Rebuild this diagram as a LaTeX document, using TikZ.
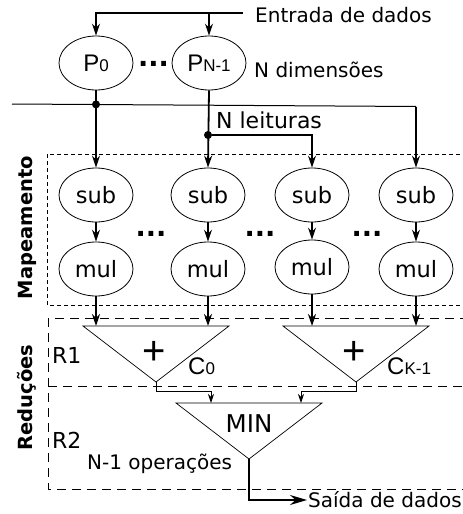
\documentclass[tikz,border=0pt]{standalone}
\usepackage{fontspec}
\setmainfont{DejaVu Sans}
\newfontfamily\arialfont{Liberation Sans}
\usetikzlibrary{shapes.geometric,arrows.meta}

\newcommand{\fs}[1]{\fontsize{#1}{#1}\selectfont}
\newcommand{\idx}[2]{{\arialfont\fs{24}#1\fs{17}#2}}

\tikzset{
  op/.style={ellipse,draw,line width=0.8pt,minimum width=74pt,minimum height=54pt,
             inner sep=0pt,font=\fs{22.5}},
  flow/.style={line width=1.8pt,-{Stealth[length=12pt,width=8pt]}},
  bus/.style={line width=1pt},
  branch/.style={line width=1.4pt,-{Stealth[length=12pt,width=8pt]}},
  merge/.style={line width=0.9pt,-{Stealth[length=9pt,width=6pt]}},
  outflow/.style={line width=1.4pt,-{Stealth[length=17pt,width=10pt]}},
  tap/.style={circle,fill,inner sep=0pt,minimum size=8pt},
  adder/.style={line width=0.7pt},
  lbl/.style={inner sep=0pt,font=\fs{20}},
  dots/.style={inner sep=0pt,font=\bfseries\fs{27}},
  stage/.style={inner sep=0pt,rotate=90,font=\bfseries\fs{19.5}},
  mapbox/.style={line width=0.8pt,dash pattern=on 4pt off 3pt},
  redbox/.style={line width=0.9pt,dash pattern=on 9pt off 6pt},
}

\begin{document}
\begin{tikzpicture}[x=1pt,y=-1pt]
\useasboundingbox (0,0) rectangle (463,514);

% dashed regions
\draw[mapbox] (47,154) rectangle (470,305);
\draw[redbox] (48,318) rectangle (470,489);
\draw[redbox] (48,386) -- (470,386);

% input registers
\node[op] (p0) at (96,63) {\idx{P}{0}};
\node[op] (pn) at (209,63) {\idx{P}{N-1}};
\node[dots,anchor=base] (d0) at (153.5,66) {...};

% mapping columns
\node[op] (s1) at (96,195) {sub};
\node[op] (s2) at (208,195) {sub};
\node[op] (s3) at (312,195) {sub};
\node[op] (s4) at (416,195) {sub};
\node[op] (m1) at (96,269) {mul};
\node[op] (m2) at (208,269) {mul};
\node[op] (m3) at (312,267) {mul};
\node[op] (m4) at (416,269) {mul};
\node[dots,anchor=base] (d1) at (151,236) {...};
\node[dots,anchor=base] (d2) at (260,236) {...};
\node[dots,anchor=base] (d3) at (367,236) {...};

% data input
\coordinate (in) at (243,13);
\draw[flow] (in) -| (p0);
\draw[flow] (pn |- in) -- (pn);
\node[lbl,anchor=base west] (tin) at (255,23) {Entrada de dados};
\node[lbl,anchor=base west] (tdim) at (254,77) {N dimensões};

% read bus
\coordinate (bl) at (12,104);
\coordinate (br) at (416,106.5);
\node[tap] (j1) at (96,104.4) {};
\node[tap] (j2) at (208,135) {};
\draw[bus] (bl) -- (br);
\draw[flow] (br) -- (s4);
\draw[flow] (p0) -- (s1);
\draw[flow] (pn.south) -- (s2.north);
\draw[branch] (j2) -| (s3);
\node[inner sep=0pt,font=\fs{22},anchor=base west] (tread) at (216,128) {N leituras};

\foreach \i in {1,2,3,4} \draw[flow] (s\i) -- (m\i);

% first reduction stage
\coordinate (a1l) at (83,326);
\coordinate (a1r) at (229,326);
\coordinate (a1) at (156,382);
\coordinate (a2l) at (283,326);
\coordinate (a2r) at (429,326);
\coordinate (a2) at (356,382);
\draw[adder] (a1l) -- (a1r) -- (a1) -- cycle;
\draw[adder] (a2l) -- (a2r) -- (a2) -- cycle;
\draw[flow] (m1) -- (m1 |- a1l);
\draw[flow] (m2) -- (m2 |- a1l);
\draw[flow] (m3) -- (m3 |- a2l);
\draw[flow] (m4) -- (m4 |- a2l);
\node[inner sep=0pt,anchor=base,font=\arialfont\fs{40}] (plus1) at (154,364) {+};
\node[inner sep=0pt,anchor=base,font=\arialfont\fs{40}] (plus2) at (354,364) {+};
\node[inner sep=0pt,anchor=base west] (c0) at (188,374) {\idx{C}{0}};
\node[inner sep=0pt,anchor=base west] (ck) at (387,374) {\idx{C}{K-1}};

% second reduction stage
\coordinate (bl2) at (176,403);
\coordinate (br2) at (322,403);
\coordinate (a3) at (249,459);
\draw[adder] (bl2) -- (br2) -- (a3) -- cycle;
\coordinate (in1) at (211,403);
\coordinate (in2) at (301,403);
\coordinate (r1) at (156,391);
\coordinate (r2) at (356,391);
\draw[merge] (a1) -- (r1) -| (in1);
\draw[merge] (a2) -- (r2) -| (in2);
\node[inner sep=0pt,anchor=base,font=\fs{24.5}] (tmin) at (249,432) {MIN};

% data output
\coordinate (out) at (307,500);
\draw[outflow] (a3) |- (out);
\node[lbl,anchor=base west] (tout) at (308,507) {Saída de dados};

% stage labels
\node[inner sep=0pt,font=\fs{22},anchor=base west] (tr1) at (52,363) {R1};
\node[inner sep=0pt,font=\fs{22},anchor=base west] (tr2) at (52,448) {R2};
\node[lbl,anchor=base west] (tops) at (87,469) {N-1 operações};
\node[stage,anchor=base] (tmap) at (32,227.5) {Mapeamento};
\node[stage,anchor=base] (tred) at (32,397.5) {Reduções};
\end{tikzpicture}
\end{document}
